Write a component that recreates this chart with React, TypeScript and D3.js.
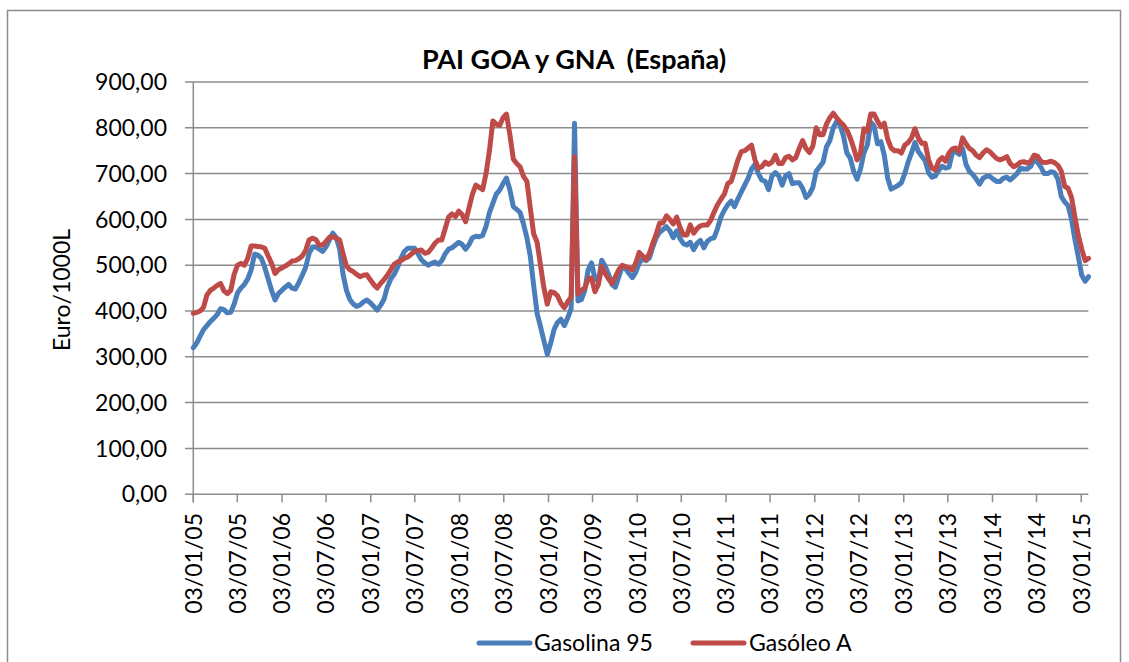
import React from 'react';
import * as d3 from 'd3';

// two-weekly readings starting 03/01/2005
const startDate = '03/01/05';
const gasolina95 = [
  320, 330, 345, 359, 368, 377, 384, 392, 405, 403, 396, 397, 415, 440, 450, 458, 470, 490, 524, 522,
  515, 495, 470, 445, 424, 438, 445, 452, 458, 450, 448, 462, 478, 495, 525, 540, 540, 535, 530, 540,
  555, 570, 560, 535, 480, 445, 425, 415, 410, 413, 420, 424, 418, 410, 402, 412, 425, 452, 470, 480,
  495, 515, 530, 537, 537, 537, 525, 512, 505, 500, 504, 507, 502, 510, 525, 535, 538, 544, 550, 545,
  535, 545, 560, 563, 562, 565, 585, 615, 635, 655, 664, 678, 690, 665, 628, 622, 615, 590, 560, 520,
  455, 395, 366, 335, 305, 330, 360, 375, 382, 368, 385, 405, 810, 422, 425, 445, 490, 505, 470, 465,
  511, 498, 480, 458, 452, 475, 497, 492, 482, 473, 485, 505, 514, 510, 516, 540, 560, 572, 578, 584,
  575, 560, 575, 558, 547, 544, 550, 534, 548, 554, 538, 552, 558, 560, 580, 605, 620, 632, 640, 628,
  645, 660, 675, 690, 710, 720, 700, 686, 683, 665, 695, 702, 695, 675, 695, 700, 678, 680, 680, 668,
  648, 655, 670, 705, 715, 725, 758, 772, 800, 814, 806, 782, 745, 734, 705, 688, 710, 745, 762, 812,
  804, 765, 770, 740, 690, 666, 670, 674, 680, 700, 725, 745, 768, 748, 738, 728, 702, 692, 695, 708,
  716, 712, 714, 745, 748, 742, 755, 720, 705, 698, 688, 677, 690, 694, 694, 688, 683, 683, 690, 692,
  686, 693, 700, 712, 710, 710, 716, 730, 725, 714, 700, 700, 704, 702, 688, 650, 638, 630, 600, 556,
  518, 478, 465, 475,
];
const gasoleoA = [
  395, 397, 400, 408, 435, 445, 450, 456, 460, 444, 438, 445, 480, 500, 504, 500, 515, 542, 542, 541,
  540, 537, 520, 504, 482, 490, 494, 498, 503, 509, 510, 514, 520, 532, 555, 559, 556, 544, 544, 552,
  561, 562, 559, 555, 525, 498, 490, 486, 480, 475, 478, 479, 468, 458, 450, 460, 468, 478, 490, 502,
  507, 510, 515, 518, 524, 530, 532, 533, 526, 528, 537, 548, 555, 555, 580, 605, 612, 606, 618, 610,
  595, 625, 655, 675, 670, 665, 700, 750, 815, 808, 805, 822, 830, 785, 732, 722, 715, 694, 683, 625,
  568, 550, 500, 450, 415, 442, 440, 433, 417, 407, 420, 430, 737, 437, 445, 450, 470, 472, 442, 458,
  497, 482, 470, 460, 475, 490, 500, 497, 494, 490, 505, 528, 520, 512, 526, 548, 568, 592, 592, 608,
  600, 590, 605, 582, 566, 566, 588, 570, 580, 586, 588, 588, 598, 616, 632, 644, 655, 678, 683, 705,
  730, 748, 750, 756, 762, 730, 712, 715, 725, 720, 725, 740, 722, 722, 735, 738, 730, 735, 755, 772,
  755, 746, 760, 800, 785, 785, 808, 822, 832, 822, 813, 806, 795, 778, 756, 730, 745, 798, 792, 830,
  830, 815, 802, 810, 775, 756, 750, 750, 745, 762, 768, 778, 798, 778, 766, 766, 730, 712, 708, 728,
  735, 727, 745, 754, 756, 748, 778, 765, 755, 750, 740, 735, 745, 752, 748, 740, 733, 730, 733, 737,
  722, 715, 719, 725, 726, 723, 727, 740, 738, 727, 724, 725, 727, 724, 718, 705, 672, 668, 648, 605,
  565, 535, 510, 515,
];
const xTickLabels = [
  '03/01/05', '03/07/05', '03/01/06', '03/07/06', '03/01/07', '03/07/07', '03/01/08', '03/07/08',
  '03/01/09', '03/07/09', '03/01/10', '03/07/10', '03/01/11', '03/07/11', '03/01/12', '03/07/12',
  '03/01/13', '03/07/13', '03/01/14', '03/07/14', '03/01/15',
];
const yTicks = [0, 100, 200, 300, 400, 500, 600, 700, 800, 900];
const axisEnd = '01/02/15';

const parse = d3.utcParse('%d/%m/%y');
const t0 = parse(startDate) as Date;
const dates = gasolina95.map((_, i) => d3.utcDay.offset(t0, i * 14));

const W = 1129;
const H = 662;
const left = 193.3;
const right = 1088.3;
const top = 82;
const bottom = 494.2;

const BLUE = '#4a7ebb';
const RED = '#be4b48';
const GRID = '#8c8c8c';

export default function App() {
  const x = d3.scaleUtc().domain([t0, parse(axisEnd) as Date]).range([left, right]);
  const y = d3.scaleLinear().domain([0, 900]).range([bottom, top]);
  const fmt = (v: number) => d3.format('.2f')(v).replace('.', ',');

  const line = (vals: number[]) =>
    d3
      .line<number>()
      .x((_, i) => x(dates[i]))
      .y((v) => y(v))(vals) || '';

  return (
    <svg
      width={W}
      height={H}
      style={{ position: 'absolute', left: 0, top: 0, fontFamily: 'Lato, sans-serif', background: '#fff' }}
    >
      <rect x={7.5} y={10.5} width={1113} height={670} fill="#fff" stroke={GRID} strokeWidth={1.5} />
      <text
        x={574}
        y={69}
        textAnchor="middle"
        fontSize={27}
        fontWeight="bold"
        fill="#000"
        style={{ whiteSpace: 'pre' }}
      >
        {'PAI GOA y GNA  (España)'}
      </text>

      {yTicks.map((t) => (
        <g key={t}>
          <line x1={185} x2={right} y1={y(t)} y2={y(t)} stroke={GRID} strokeWidth={1.5} />
          <text x={167} y={y(t)} dy="0.36em" textAnchor="end" fontSize={23} fill="#000">
            {fmt(t)}
          </text>
        </g>
      ))}
      <line x1={left} x2={left} y1={top} y2={bottom + 8} stroke={GRID} strokeWidth={1.5} />

      {xTickLabels.map((lab) => {
        const px = x(parse(lab) as Date);
        return (
          <g key={lab}>
            <line x1={px} x2={px} y1={bottom} y2={bottom + 8} stroke={GRID} strokeWidth={1.5} />
            <text
              transform={`translate(${px},${513}) rotate(-90)`}
              dy="0.36em"
              textAnchor="end"
              fontSize={23}
              fill="#000"
            >
              {lab}
            </text>
          </g>
        );
      })}

      <text transform="translate(70,290) rotate(-90)" textAnchor="middle" fontSize={23} fill="#000">
        Euro/1000L
      </text>

      <path d={line(gasolina95)} fill="none" stroke={BLUE} strokeWidth={5} strokeLinejoin="round" strokeLinecap="round" />
      <path d={line(gasoleoA)} fill="none" stroke={RED} strokeWidth={5} strokeLinejoin="round" strokeLinecap="round" />

      <g>
        <line x1={479} x2={530} y1={643} y2={643} stroke={BLUE} strokeWidth={5} strokeLinecap="round" />
        <text x={534} y={643} dy="0.36em" fontSize={23} fill="#000">Gasolina 95</text>
        <line x1={693} x2={744} y1={643} y2={643} stroke={RED} strokeWidth={5} strokeLinecap="round" />
        <text x={749} y={643} dy="0.36em" fontSize={23} fill="#000">Gasóleo A</text>
      </g>
    </svg>
  );
}
